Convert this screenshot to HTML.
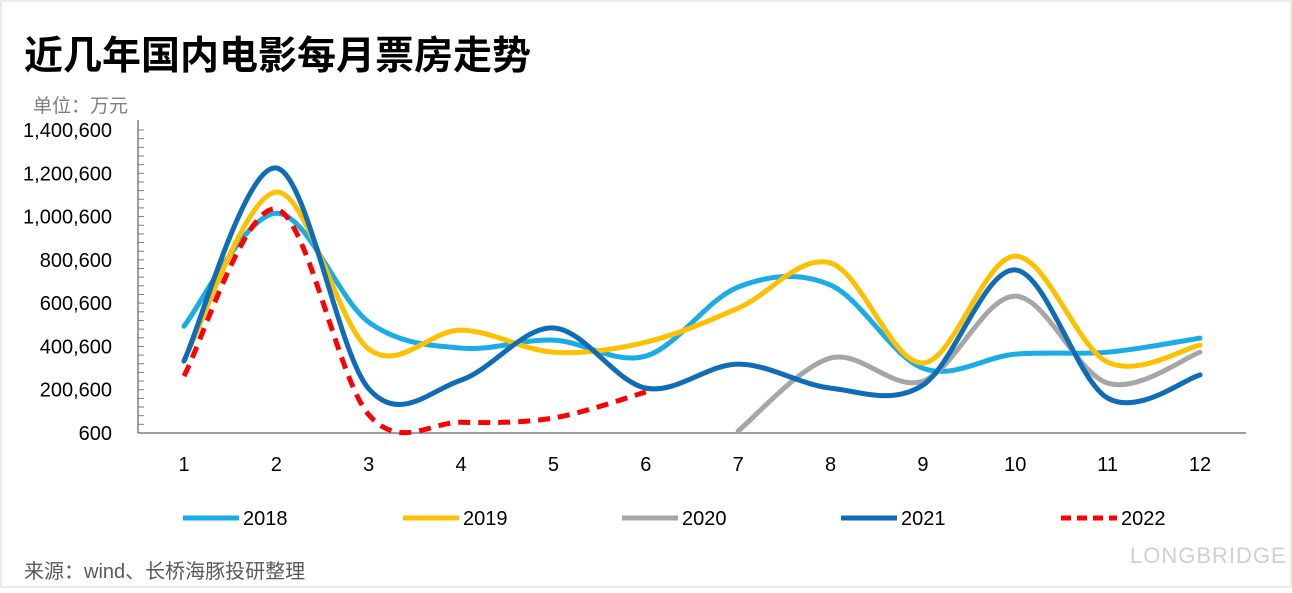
<!DOCTYPE html>
<html><head><meta charset="utf-8">
<style>
html,body{margin:0;padding:0;background:#fff;}
body{width:1292px;height:588px;overflow:hidden;font-family:"Liberation Sans","Noto Sans CJK SC",sans-serif;}
</style></head>
<body>
<svg id="chart" width="1292" height="588" viewBox="0 0 1292 588" xmlns="http://www.w3.org/2000/svg">
<rect x="1" y="1" width="1290" height="586" fill="#fff" stroke="#d9d9d9"/>
<text x="24" y="69" font-size="39" font-weight="bold" fill="#000" font-family="'Liberation Sans','Noto Sans CJK SC',sans-serif">近几年国内电影每月票房走势</text>
<text x="33" y="112" font-size="19" fill="#7f7f7f" font-family="'Liberation Sans','Noto Sans CJK SC',sans-serif">单位：万元</text>
<text x="24" y="578" font-size="20" fill="#595959" font-family="'Liberation Sans','Noto Sans CJK SC',sans-serif">来源：wind、长桥海豚投研整理</text>
<text x="1130" y="563" font-size="22" fill="#d0d0d0" letter-spacing="1">LONGBRIDGE</text>
<g id="axes"></g>
<g id="series"></g>
<g id="legend"></g>
</svg>
<script>
const months = [1,2,3,4,5,6,7,8,9,10,11,12];
const yTicks = [600,200600,400600,600600,800600,1000600,1200600,1400600];
const seriesNames = ["2018","2019","2020","2021","2022"];
const s2018 = [494000,1016000,513000,393000,430000,356000,675000,684000,300000,365000,374000,439000];
const s2019 = [337000,1114000,388000,476000,374000,420000,577000,786000,324000,818000,328000,407000];
const s2020 = [null,null,null,null,null,null,10000,347000,240000,633000,231000,374000];
const s2021 = [333000,1225000,205000,245000,486000,208000,319000,208000,222000,754000,162000,269000];
const s2022 = [264000,1035000,85000,50000,70000,190000,null,null,null,null,null,null];
const colors = ["#1aace6","#ffc000","#a6a6a6","#0f6cb6","#ff0000"];
const NS="http://www.w3.org/2000/svg";
const X0=138,X1=1246,Y0=433,Y1=130,YMIN=600,YMAX=1400600;
function xs(m){return 184+(m-1)*(1200-184)/11;}
function ys(v){return Y0-(v-YMIN)/(YMAX-YMIN)*(Y0-Y1);}
function mk(tag,attrs,parent){const e=document.createElementNS(NS,tag);for(const k in attrs)e.setAttribute(k,attrs[k]);parent.appendChild(e);return e;}
const axes=document.getElementById('axes');
let yl=mk('line',{x1:X0,y1:Y1-10,x2:X0,y2:Y0,stroke:'#7f7f7f','stroke-width':1.5},axes);


let xl=mk('line',{x1:X0,y1:Y0,x2:X1,y2:Y0,stroke:'#7f7f7f','stroke-width':1.5},axes);


for(let v=YMIN;v<=YMAX;v+=40000){
  const y=ys(v);
  mk('line',{x1:X0,y1:y,x2:X0+6,y2:y,stroke:'#7f7f7f','stroke-width':1},axes);
}
yTicks.forEach(v=>{
  const t=mk('text',{x:112,y:ys(v)+7,'text-anchor':'end','font-size':20,fill:'#000'},axes);
  t.textContent=v.toLocaleString('en-US');
  
  
});
months.forEach(m=>{
  const t=mk('text',{x:xs(m),y:471,'text-anchor':'middle','font-size':20,fill:'#000'},axes);
  t.textContent=m;
  
  
});
function smoothPath(pts){
  let d='M'+pts[0][0]+','+pts[0][1];
  for(let i=0;i<pts.length-1;i++){
    const p0=pts[i-1]||pts[i],p1=pts[i],p2=pts[i+1],p3=pts[i+2]||pts[i+1];
    const c1=[p1[0]+(p2[0]-p0[0])/6,p1[1]+(p2[1]-p0[1])/6];
    const c2=[p2[0]-(p3[0]-p1[0])/6,p2[1]-(p3[1]-p1[1])/6];
    d+=' C'+c1[0]+','+c1[1]+' '+c2[0]+','+c2[1]+' '+p2[0]+','+p2[1];
  }
  return d;
}
const all=[s2018,s2019,s2020,s2021,s2022];
const sg=document.getElementById('series');
all.forEach((arr,i)=>{
  const pts=[];arr.forEach((v,j)=>{if(v!==null)pts.push([xs(months[j]),ys(v)]);});
  const attrs={d:smoothPath(pts),fill:'none',stroke:colors[i],'stroke-width':5,'stroke-linecap':i===4?'butt':'round'};
  if(i===4)attrs['stroke-dasharray']='12,8';
  const p=mk('path',attrs,sg);
  
  
});
const lg=document.getElementById('legend');
const lx=[183,403,622,841,1061];
seriesNames.forEach((n,i)=>{
  const g=mk('g',{},lg);
  
  
  const a={x1:lx[i],y1:518,x2:lx[i]+56,y2:518,stroke:colors[i],'stroke-width':5};
  if(i===4)a['stroke-dasharray']='10,6';
  mk('line',a,g);
  const t=mk('text',{x:lx[i]+60,y:525,'font-size':20,fill:'#000'},g);
  t.textContent=n;
});
</script>
</body></html>
